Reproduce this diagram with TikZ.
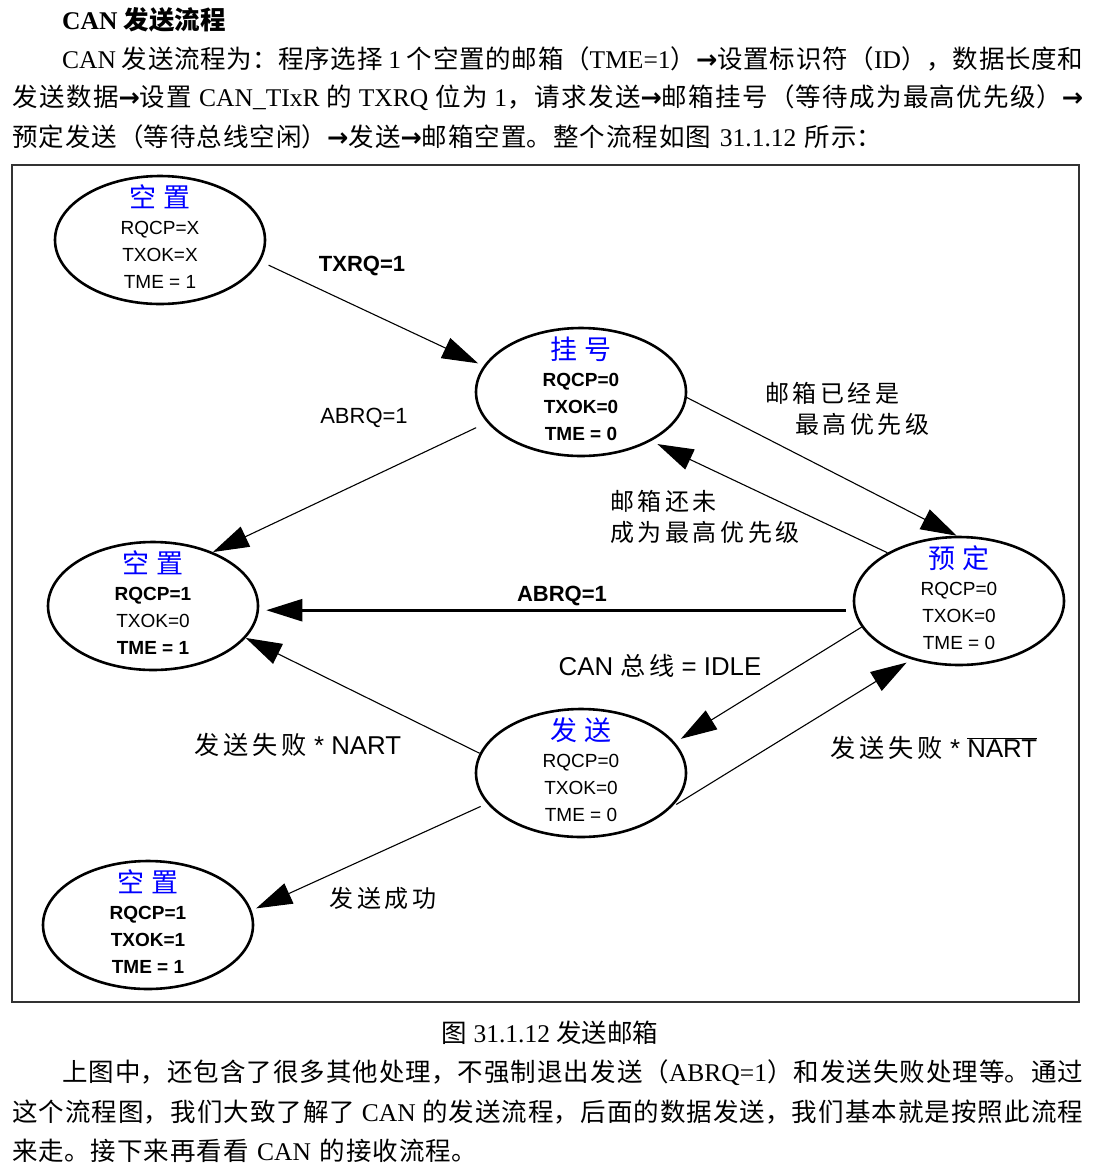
\documentclass[tikz,border=0pt]{standalone}
\usepackage{fontspec}
\setmainfont{Liberation Serif}
\newfontfamily\zhf{Noto Sans CJK SC}
\newfontfamily\zhlab{Noto Sans CJK SC}[LetterSpace=15]
\newfontfamily\sansf{Liberation Sans}
\newfontfamily\symf{DejaVu Sans}
\usetikzlibrary{shapes.geometric,arrows.meta}
\XeTeXlinebreaklocale "zh"
\XeTeXlinebreakskip=1pt plus 3pt minus 1pt
\newcommand\zh[1]{{\zhf #1}}
\newcommand\lab[1]{{\zhlab\fontsize{24}{31}\selectfont #1}}
\newcommand\lbig[1]{{\zhlab\fontsize{25.2}{31}\selectfont #1}}
\newcommand\arr{{\symf\bfseries →}}
\newcommand\bodyfont{\fontsize{25.5}{39}\selectfont}
\newcommand\sttitle[1]{{\color{blue}\zhf\fontsize{27}{27}\selectfont #1}}
\tikzset{
	state/.style={ellipse, draw, line width=2.6pt, minimum width=210pt, minimum height=128pt, inner sep=0pt},
	statetxt/.style={align=center, inner sep=0pt, yshift=3pt, font=\sansf\fontsize{19}{27}\selectfont},
	edge/.style={line width=1.1pt, -{Triangle[length=36pt,width=22pt]}},
	edgelab/.style={inner sep=0pt, font=\sansf\fontsize{22}{31}\selectfont},
	biglab/.style={inner sep=0pt, font=\sansf\fontsize{25.8}{31}\selectfont},
	body/.style={anchor=west, inner sep=0pt, font=\bodyfont},
}
\begin{document}
\begin{tikzpicture}[x=1pt,y=-1pt]
		\fill[white] (0,0) rectangle (1097,1171);
		\useasboundingbox (0,0) rectangle (1097,1171);
		
		%text above
		\node[body] (hd) at (62,20) {\bfseries CAN \zh{发送流程}};
		\node[body, text width=1021pt, align=justify] (p1) at (62,59) {\parfillskip=0pt\tolerance=10000 CAN \zh{发送流程为：程序选择} 1 \zh{个空置的邮箱（}TME=1\zh{）}\arr\zh{设置标识符（}ID\zh{），数据长度和}\par};
		\node[body, text width=1071pt, align=justify] (p2) at (12,98) {\parfillskip=0pt\tolerance=10000 \zh{发送数据}\arr\zh{设置} CAN\_TIxR \zh{的} TXRQ \zh{位为} 1\zh{，请求发送}\arr\zh{邮箱挂号（等待成为最高优先级）}\arr\par};
		\node[body, text width=1071pt, align=left] (p3) at (12,137) {\zh{预定发送（等待总线空闲）}\arr\zh{发送}\arr\zh{邮箱空置。整个流程如图} 31.1.12 \zh{所示：}};
		
		%frame
		\draw[line width=1.5pt, black!80] (12,165) rectangle (1079,1002);
		
		%states
		\node[state] (kz1) at (160,240) {};
		\node[statetxt] (kz1t) at (kz1) {\sttitle{空\hspace{7pt}置}\\RQCP=X\\TXOK=X\\TME = 1};
		\node[state] (gh) at (581,392) {};
		\node[statetxt] (ght) at (gh) {\sttitle{挂\hspace{7pt}号}\\\textbf{RQCP=0}\\\textbf{TXOK=0}\\\textbf{TME = 0}};
		\node[state] (kz2) at (153,606) {};
		\node[statetxt] (kz2t) at (kz2) {\sttitle{空\hspace{7pt}置}\\\textbf{RQCP=1}\\TXOK=0\\\textbf{TME = 1}};
		\node[state] (yd) at (959,601) {};
		\node[statetxt] (ydt) at (yd) {\sttitle{预\hspace{7pt}定}\\RQCP=0\\TXOK=0\\TME = 0};
		\node[state] (fs) at (581,773) {};
		\node[statetxt] (fst) at (fs) {\sttitle{发\hspace{7pt}送}\\RQCP=0\\TXOK=0\\TME = 0};
		\node[state] (kz3) at (148,925) {};
		\node[statetxt] (kz3t) at (kz3) {\sttitle{空\hspace{7pt}置}\\\textbf{RQCP=1}\\\textbf{TXOK=1}\\\textbf{TME = 1}};
		
		%transitions
		\draw[edge, shorten <=9pt, shorten >=6pt] (kz1.-12) -- (gh.165);
		\draw[edge, shorten <=12pt] (gh.198) -- (kz2.42);
		\draw[edge] (gh.-3) -- (yd.92);
		\draw[edge, shorten >=7pt] (yd.146) -- (gh.-35);
		\draw[edge, line width=2.6pt, shorten <=8pt, shorten >=7pt] (yd.185) -- (yd.185 -| kz2.east);
		\draw[edge, shorten >=7pt] (yd.195) -- (fs.18);
		\draw[edge] (fs.169) -- (kz2.-19);
		\draw[edge, shorten <=6pt, shorten >=6pt] (fs.-21) -- (yd.231);
		\draw[edge, shorten <=7pt, shorten >=5pt] (fs.198) -- (kz3.8);
		
		%labels
		\node[edgelab] (l1) at (362,266) {\textbf{TXRQ=1}};
		\node[edgelab] (l2) at (364,418) {ABRQ=1};
		\node[edgelab] (l3) at (562,596) {\textbf{ABRQ=1}};
		\node[edgelab, anchor=west, align=left] (l4) at (765,409) {\lab{邮箱已经是}\\\hspace*{30pt}\lab{最高优先级}};
		\node[edgelab, anchor=west, align=left] (l5) at (610,517) {\lab{邮箱还未}\\\lab{成为最高优先级}};
		\node[biglab] (l6) at (660,666) {CAN \lbig{总线} = IDLE};
		\node[biglab] (l7) at (298,745) {\lbig{发送失败} * NART};
		\node[biglab] (l8) at (934,748) {\lbig{发送失败} * $\overline{\mbox{NART}}$};
		\node[edgelab] (l9) at (383,898) {\lab{发送成功}};
		
		%text below
		\node[inner sep=0pt, font=\bodyfont] (cap) at (550,1033) {\zh{图} 31.1.12 \zh{发送邮箱}};
		\node[body, text width=1021pt, align=justify] (p4) at (62,1073) {\parfillskip=0pt\tolerance=10000 \zh{上图中，还包含了很多其他处理，不强制退出发送（}ABRQ=1\zh{）和发送失败处理等。通过}\par};
		\node[body, text width=1071pt, align=justify] (p5) at (12,1112) {\parfillskip=0pt\tolerance=10000 \zh{这个流程图，我们大致了解了} CAN \zh{的发送流程，后面的数据发送，我们基本就是按照此流程}\par};
		\node[body, text width=1071pt, align=left] (p6) at (12,1151) {\zh{来走。接下来再看看} CAN \zh{的接收流程。}};
\end{tikzpicture}
\end{document}
